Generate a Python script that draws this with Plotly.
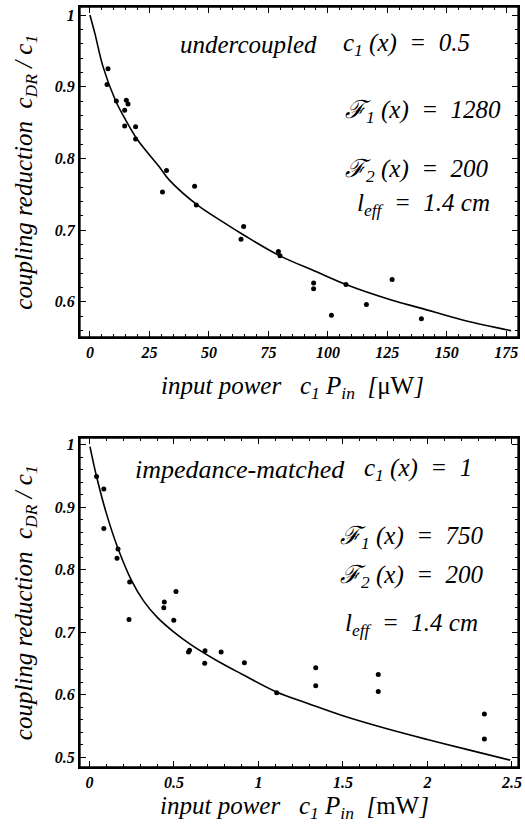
import plotly.graph_objects as go
from plotly.subplots import make_subplots

# ---------------- data: top panel (undercoupled, input power in µW) ----------------
top_x = [7.6, 7.2, 11.1, 15.3, 16.0, 14.6, 14.6, 19.2, 19.2, 30.5, 32.2, 44.0, 44.7,
         64.6, 63.5, 79.2, 79.9, 94.0, 94.0, 101.5, 107.6, 116.2, 127.0, 139.3]
top_y = [0.925, 0.903, 0.880, 0.881, 0.876, 0.867, 0.845, 0.844, 0.827, 0.753, 0.783, 0.761, 0.735,
         0.705, 0.687, 0.670, 0.664, 0.626, 0.618, 0.581, 0.624, 0.596, 0.631, 0.576]
top_fit_x = [0, 2.1, 5.5, 10.7, 14.6, 20, 29.2, 33.3, 45.1, 55, 64.6, 79.2, 95, 107.6, 127, 139, 157, 177]
top_fit_y = [1.0, 0.974, 0.928, 0.881, 0.856, 0.826, 0.788, 0.770, 0.735, 0.713, 0.693, 0.665,
             0.642, 0.624, 0.602, 0.591, 0.574, 0.5595]
top_xticks = [0, 25, 50, 75, 100, 125, 150, 175]
top_yticks = [0.6, 0.7, 0.8, 0.9, 1.0]
top_ytext = ["0.6", "0.7", "0.8", "0.9", "1"]

# ---------------- data: bottom panel (impedance-matched, input power in mW) ----------------
bot_x = [0.042, 0.085, 0.085, 0.169, 0.163, 0.238, 0.234, 0.443, 0.440, 0.512, 0.499,
         0.586, 0.592, 0.684, 0.682, 0.779, 0.917, 1.108, 1.339, 1.339, 1.709, 1.709, 2.337, 2.337]
bot_y = [0.949, 0.929, 0.866, 0.833, 0.818, 0.780, 0.720, 0.748, 0.739, 0.765, 0.719,
         0.668, 0.671, 0.670, 0.650, 0.668, 0.651, 0.603, 0.643, 0.614, 0.632, 0.605, 0.569, 0.529]
bot_fit_x = [0.003, 0.042, 0.10, 0.17, 0.25, 0.32, 0.40, 0.50, 0.60, 0.75, 0.90, 1.10,
             1.30, 1.50, 1.75, 2.00, 2.25, 2.49]
bot_fit_y = [0.997, 0.949, 0.890, 0.833, 0.782, 0.750, 0.724, 0.700, 0.680, 0.655, 0.633, 0.605,
             0.585, 0.566, 0.546, 0.528, 0.511, 0.495]
bot_xticks = [0, 0.5, 1, 1.5, 2, 2.5]
bot_xtext = ["0", "0.5", "1", "1.5", "2", "2.5"]
bot_yticks = [0.5, 0.6, 0.7, 0.8, 0.9, 1.0]
bot_ytext = ["0.5", "0.6", "0.7", "0.8", "0.9", "1"]

SERIF = "Liberation Serif, Times New Roman, DejaVu Serif, serif"
NB = "\u00a0"

fig = make_subplots(rows=2, cols=1, vertical_spacing=0.133)

line_style = dict(color="black", width=1.6)
marker_style = dict(color="black", size=5)

fig.add_trace(go.Scatter(x=top_fit_x, y=top_fit_y, mode="lines", line=line_style,
                         line_shape="spline", showlegend=False), row=1, col=1)
fig.add_trace(go.Scatter(x=top_x, y=top_y, mode="markers", marker=marker_style,
                         showlegend=False), row=1, col=1)
fig.add_trace(go.Scatter(x=bot_fit_x, y=bot_fit_y, mode="lines", line=line_style,
                         line_shape="spline", showlegend=False), row=2, col=1)
fig.add_trace(go.Scatter(x=bot_x, y=bot_y, mode="markers", marker=marker_style,
                         showlegend=False), row=2, col=1)

tickfont = dict(family=SERIF, size=16, color="black", style="italic", weight="bold")
axis_common = dict(showline=True, linecolor="black", linewidth=2, mirror="ticks",
                   ticks="inside", ticklen=6, tickwidth=1, tickcolor="black",
                   showgrid=False, zeroline=False, tickfont=tickfont,
                   ticklabeloverflow="allow")
minor_common = dict(ticks="inside", ticklen=3, tickwidth=1, tickcolor="black", showgrid=False)

fig.update_xaxes(range=[-4.17, 179.9], tickvals=top_xticks, minor=dict(dtick=5, **minor_common),
                 **axis_common, row=1, col=1)
fig.update_yaxes(range=[0.5507, 1.0112], tickvals=top_yticks, ticktext=top_ytext,
                 minor=dict(dtick=0.02, tick0=0, **minor_common), **axis_common, row=1, col=1)
fig.update_xaxes(range=[-0.056, 2.536], tickvals=bot_xticks, ticktext=bot_xtext,
                 minor=dict(dtick=0.1, tick0=0, **minor_common), **axis_common, row=2, col=1)
fig.update_yaxes(range=[0.484, 1.0107], tickvals=bot_yticks, ticktext=bot_ytext,
                 minor=dict(dtick=0.02, tick0=0, **minor_common), **axis_common, row=2, col=1)

fig.update_xaxes(domain=[0, 1])
fig.layout.yaxis.domain = [0.5658, 1.0]
fig.layout.yaxis2.domain = [0.0, 0.4329]

# thin frame around both panels
for xr, yr in (("x domain", "y domain"), ("x2 domain", "y2 domain")):
    fig.add_shape(type="rect", xref=xr, yref=yr, x0=0, x1=1, y0=0, y1=1,
                  line=dict(color="black", width=1.3), fillcolor="rgba(0,0,0,0)")

txt = dict(family=SERIF, size=25, color="black", style="italic")

def ann(xref, yref, x, y, text, xanchor="left", angle=0, size=25):
    fig.add_annotation(xref=xref, yref=yref, x=x, y=y, text=text, showarrow=False,
                       xanchor=xanchor, yanchor="middle", textangle=angle,
                       font=dict(txt, size=size))

EQ = NB + "=" + NB
UP = '<span style="font-style:normal">{}</span>'

# top panel texts
ann("x domain", "y domain", 0.385, 0.885, "undercoupled", xanchor="center")
ann("x domain", "y domain", 0.596, 0.885, "c<sub>1</sub>" + NB + "(x)" + NB + EQ + NB + "0.5")
ann("x domain", "y domain", 0.600, 0.682, "\u2131<sub>1</sub>" + NB + "(x)" + NB + EQ + NB + "1280")
ann("x domain", "y domain", 0.600, 0.506, "\u2131<sub>2</sub>" + NB + "(x)" + NB + EQ + NB + "200")
ann("x domain", "y domain", 0.628, 0.400, "l<sub>eff</sub>" + NB + EQ + NB + "1.4 cm")

# bottom panel texts
ann("x2 domain", "y2 domain", 0.365, 0.903, "impedance-matched", xanchor="center", size=26)
ann("x2 domain", "y2 domain", 0.644, 0.903, "c<sub>1</sub>" + NB + "(x)" + NB + EQ + NB + "1")
ann("x2 domain", "y2 domain", 0.590, 0.699, "\u2131<sub>1</sub>" + NB + "(x)" + NB + EQ + NB + "750")
ann("x2 domain", "y2 domain", 0.590, 0.578, "\u2131<sub>2</sub>" + NB + "(x)" + NB + EQ + NB + "200")
ann("x2 domain", "y2 domain", 0.600, 0.432, "l<sub>eff</sub>" + NB + EQ + NB + "1.4 cm")

# axis titles
ytitle = "coupling reduction" + NB * 2 + "c<sub>DR</sub> / c<sub>1</sub>"
ann("x domain", "y domain", -0.124, 0.5, ytitle, xanchor="center", angle=-90)
ann("x2 domain", "y2 domain", -0.124, 0.5, ytitle, xanchor="center", angle=-90)

xt_top = ("input power" + NB * 3 + "c<sub>1</sub> P<sub>in</sub>" + NB * 2 + "["
          + UP.format("\u03bcW") + "]")
xt_bot = ("input" + NB + "power" + NB * 3 + "c<sub>1</sub> P<sub>in</sub>" + NB * 2 + "["
          + UP.format("mW") + "]")
ann("x domain", "y domain", 0.485, -0.152, xt_top, xanchor="center")
ann("x2 domain", "y2 domain", 0.49, -0.123, xt_bot, xanchor="center")

fig.update_layout(width=525, height=824, margin=dict(l=80, r=3, t=7, b=57),
                  plot_bgcolor="white", paper_bgcolor="white", showlegend=False)

fig.write_html("out.html", config={"displayModeBar": False},
               post_script="document.body.style.margin='0';document.body.style.overflow='hidden';")
